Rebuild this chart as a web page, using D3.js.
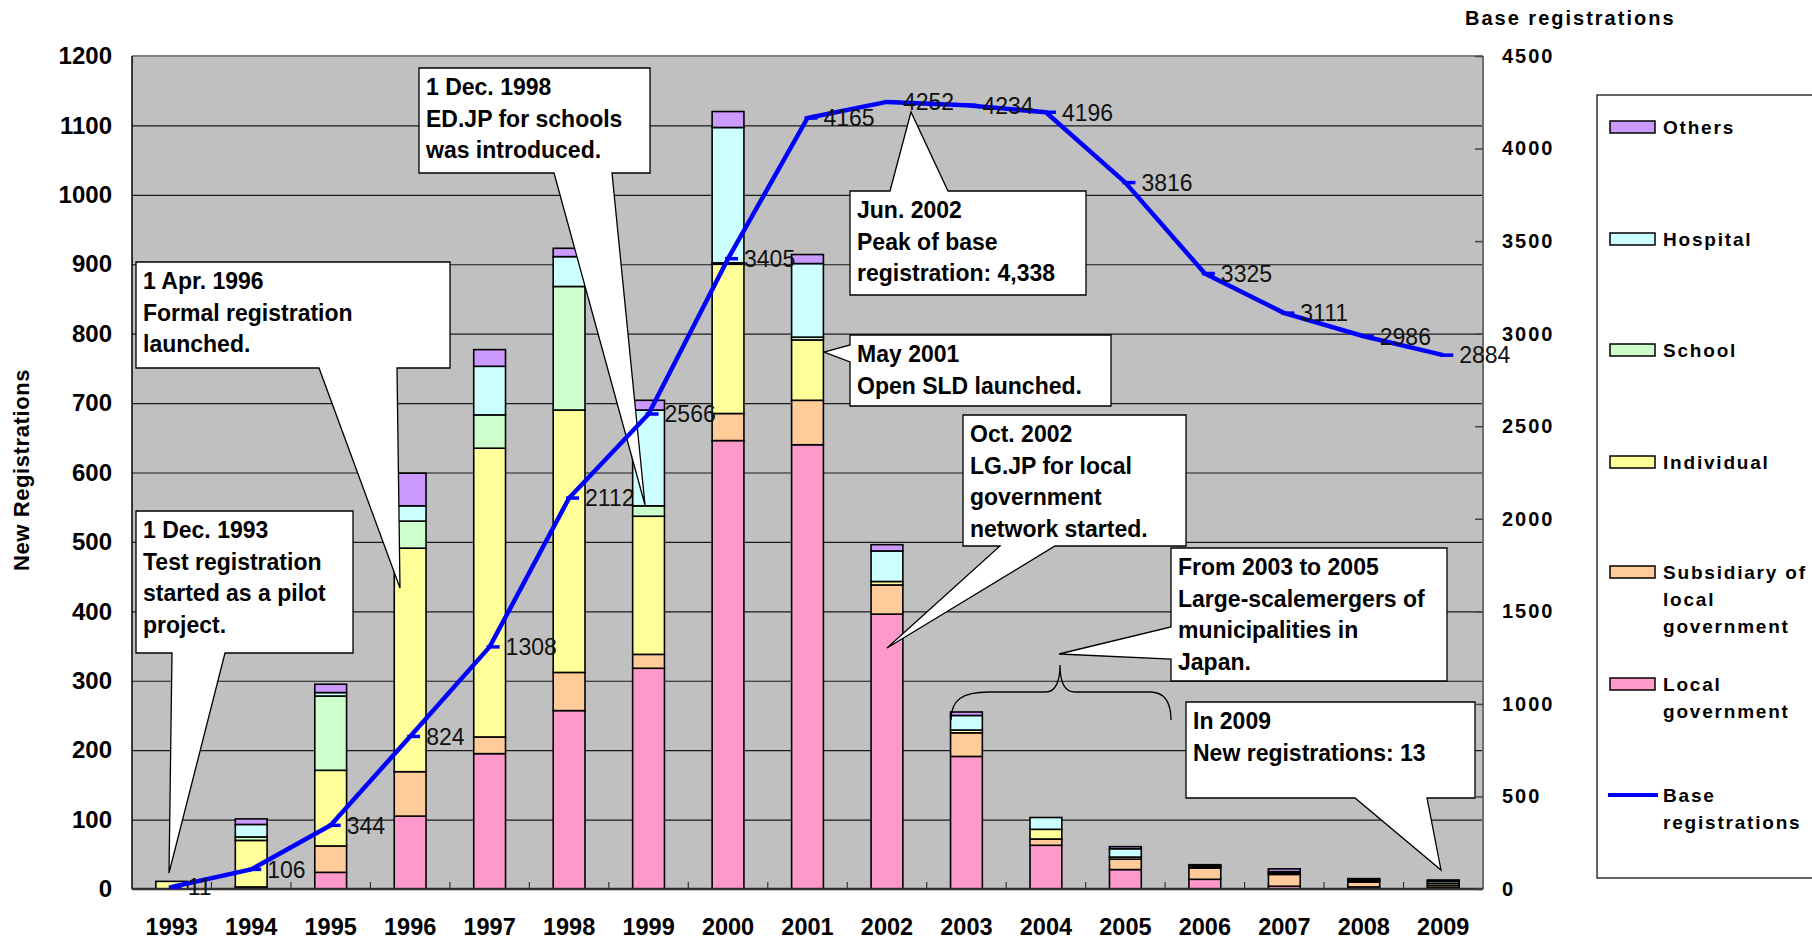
<!DOCTYPE html>
<html>
<head>
<meta charset="utf-8">
<script src="https://cdn.jsdelivr.net/npm/d3@7/dist/d3.min.js"></script>
<style>
  body { margin: 0; background: #fff; }
  svg { display: block; font-family: "Liberation Sans", Arial, sans-serif; }
</style>
</head>
<body>
<div id="chart"></div>
<script>
// data
var years = ["1993","1994","1995","1996","1997","1998","1999","2000","2001","2002","2003","2004","2005","2006","2007","2008","2009"];
var localGov   = [0, 2, 24, 105, 195, 257, 318, 646, 640, 396, 191, 63, 28, 14, 4, 3, 2];
var subsidiary = [0, 1, 38, 64, 24, 55, 20, 39, 64, 42, 34, 9, 15, 16, 17, 7, 3];
var individual = [11, 67, 109, 322, 416, 378, 199, 215, 87, 5, 4, 14, 3, 2, 2, 2, 3];
var school     = [0, 5, 107, 39, 48, 178, 15, 2, 4, 0, 0, 0, 0, 0, 0, 0, 0];
var hospital   = [0, 18, 5, 22, 70, 43, 138, 195, 106, 44, 21, 17, 12, 1, 2, 2, 3];
var others     = [0, 8, 12, 47, 24, 12, 14, 23, 13, 9, 5, 0, 3, 2, 4, 1, 2];
var baseRegs   = [11, 106, 344, 824, 1308, 2112, 2566, 3405, 4165, 4252, 4234, 4196, 3816, 3325, 3111, 2986, 2884];

var leftTicks = [0,100,200,300,400,500,600,700,800,900,1000,1100,1200];
var rightTicks = [0,500,1000,1500,2000,2500,3000,3500,4000,4500];

var seriesKeys = ["Local government","Subsidiary of local government","Individual","School","Hospital","Others"];
var seriesVals = [localGov, subsidiary, individual, school, hospital, others];
var seriesColors = ["#FF99CC","#FFCC99","#FFFF99","#CCFFCC","#CCFFFF","#CC99FF"];

// callouts (layout only)
var callouts = [
  {box:[136,511,353,653], side:"bottom", base:[172,225], tip:[169,873],
   lines:["1 Dec. 1993","Test registration","started as a pilot","project."]},
  {box:[136,262,450,368], side:"bottom", base:[319,397], tip:[400,588],
   lines:["1 Apr. 1996","Formal registration","launched."]},
  {box:[419,68,650,173], side:"bottom", base:[554,612], tip:[645,505],
   lines:["1 Dec. 1998","ED.JP for schools","was introduced."]},
  {box:[850,191,1086,295], side:"top", base:[890,948], tip:[911,112],
   lines:["Jun. 2002","Peak of base","registration: 4,338"]},
  {box:[850,335,1111,406], side:"left", base:[345,362], tip:[824,352],
   lines:["May 2001","Open SLD launched."]},
  {box:[963,415,1186,546], side:"bottom", base:[1000,1055], tip:[887,648],
   lines:["Oct. 2002","LG.JP for local","government","network started."]},
  {box:[1171,548,1447,681], side:"left", base:[627,659], tip:[1059,654],
   lines:["From 2003 to 2005","Large-scalemergers of","municipalities in","Japan."]},
  {box:[1186,702,1475,798], side:"bottom", base:[1355,1427], tip:[1441,870],
   lines:["In 2009","New registrations: 13"]}
];

var W = 1812, H = 939;
var plot = {left: 132, right: 1483, top: 56, bottom: 889};

var svg = d3.select("#chart").append("svg")
  .attr("width", W).attr("height", H);

var x = d3.scaleBand()
  .domain(years)
  .range([plot.left, plot.right])
  .paddingInner(0.6)
  .paddingOuter(0.3);

var yL = d3.scaleLinear().domain([0, 1200]).range([plot.bottom, plot.top]);
var yR = d3.scaleLinear().domain([0, 4500]).range([plot.bottom, plot.top]);

// plot background
svg.append("rect")
  .attr("x", plot.left).attr("y", plot.top)
  .attr("width", plot.right - plot.left).attr("height", plot.bottom - plot.top)
  .attr("fill", "#C0C0C0");

// gridlines
svg.append("g")
  .attr("transform", "translate(" + plot.left + ",0)")
  .call(d3.axisLeft(yL).tickValues(leftTicks).tickSize(-(plot.right - plot.left)).tickFormat(""))
  .call(function(g) { g.select(".domain").remove(); })
  .selectAll("line").attr("stroke", "#1a1a1a").attr("stroke-width", 1.2);

// stacked bars
var table = years.map(function(yr, i) {
  var row = {year: yr};
  seriesKeys.forEach(function(k, j) { row[k] = seriesVals[j][i]; });
  return row;
});
var stacked = d3.stack().keys(seriesKeys)(table);

svg.append("g").selectAll("g")
  .data(stacked)
  .join("g")
    .attr("fill", function(d, i) { return seriesColors[i]; })
  .selectAll("rect")
  .data(function(d) { return d.filter(function(s) { return s[1] - s[0] > 0; }); })
  .join("rect")
    .attr("x", function(d) { return x(d.data.year); })
    .attr("y", function(d) { return yL(d[1]); })
    .attr("width", x.bandwidth())
    .attr("height", function(d) { return yL(d[0]) - yL(d[1]); })
    .attr("stroke", "#000")
    .attr("stroke-width", 1.6);

// bottom axis inner ticks between categories
var step = x.step();
svg.append("g").selectAll("line")
  .data(years.slice(1))
  .join("line")
    .attr("x1", function(d) { return x(d) - step * x.paddingInner() / 2; })
    .attr("x2", function(d) { return x(d) - step * x.paddingInner() / 2; })
    .attr("y1", plot.bottom).attr("y2", plot.bottom - 7)
    .attr("stroke", "#333").attr("stroke-width", 1.2);

// plot frame
svg.append("line").attr("x1", plot.left).attr("x2", plot.right)
  .attr("y1", plot.top).attr("y2", plot.top)
  .attr("stroke", "#808080").attr("stroke-width", 2);
svg.append("line").attr("x1", plot.right).attr("x2", plot.right)
  .attr("y1", plot.top).attr("y2", plot.bottom)
  .attr("stroke", "#6e6e6e").attr("stroke-width", 2);
svg.append("line").attr("x1", plot.left).attr("x2", plot.left)
  .attr("y1", plot.top).attr("y2", plot.bottom)
  .attr("stroke", "#000").attr("stroke-width", 1.5);
svg.append("line").attr("x1", plot.left).attr("x2", plot.right)
  .attr("y1", plot.bottom).attr("y2", plot.bottom)
  .attr("stroke", "#333").attr("stroke-width", 2.5);

// callouts
function calloutPath(c) {
  var x0 = c.box[0], y0 = c.box[1], x1 = c.box[2], y1 = c.box[3];
  var p = d3.path();
  if (c.side === "bottom") {
    p.moveTo(x0, y0); p.lineTo(x1, y0); p.lineTo(x1, y1);
    p.lineTo(c.base[1], y1); p.lineTo(c.tip[0], c.tip[1]); p.lineTo(c.base[0], y1);
    p.lineTo(x0, y1);
  } else if (c.side === "top") {
    p.moveTo(x0, y0); p.lineTo(c.base[0], y0); p.lineTo(c.tip[0], c.tip[1]);
    p.lineTo(c.base[1], y0); p.lineTo(x1, y0); p.lineTo(x1, y1); p.lineTo(x0, y1);
  } else {
    p.moveTo(x0, y0); p.lineTo(x1, y0); p.lineTo(x1, y1); p.lineTo(x0, y1);
    p.lineTo(x0, c.base[1]); p.lineTo(c.tip[0], c.tip[1]); p.lineTo(x0, c.base[0]);
  }
  p.closePath();
  return p.toString();
}

var cg = svg.append("g").selectAll("g")
  .data(callouts)
  .join("g");
cg.append("path")
  .attr("d", calloutPath)
  .attr("fill", "#fff")
  .attr("stroke", "#000")
  .attr("stroke-width", 1.3)
  .attr("stroke-linejoin", "miter");
cg.each(function(c) {
  d3.select(this).selectAll("text")
    .data(c.lines)
    .join("text")
      .attr("x", c.box[0] + 7)
      .attr("y", function(d, i) { return c.box[1] + 19 + i * 31.5; })
      .attr("dy", "0.36em")
      .style("font-size", "23px")
      .style("font-weight", "bold")
      .text(function(d) { return d; });
});

// brace for 2003-2005
svg.append("path")
  .attr("d", "M951,720 C951,700 962,692 989,692 L1046,692 C1056,692 1060,680 1060,665 " +
             "C1060,680 1064,692 1075,692 L1150,692 C1165,692 1171,702 1171,720")
  .attr("fill", "none").attr("stroke", "#000").attr("stroke-width", 1.3);

// base registrations line
var cx = function(i) { return x(years[i]) + x.bandwidth() / 2; };
var line = d3.line()
  .x(function(d, i) { return cx(i); })
  .y(function(d) { return yR(d); });

svg.append("path")
  .datum(baseRegs)
  .attr("d", line)
  .attr("fill", "none")
  .attr("stroke", "#0000FF")
  .attr("stroke-width", 4.5)
  .attr("stroke-linejoin", "round");

svg.append("g").selectAll("line")
  .data(baseRegs)
  .join("line")
    .attr("x1", function(d, i) { return cx(i) - 3; })
    .attr("x2", function(d, i) { return cx(i) + 10; })
    .attr("y1", function(d) { return yR(d); })
    .attr("y2", function(d) { return yR(d); })
    .attr("stroke", "#0000FF").attr("stroke-width", 3.5);

svg.append("g").selectAll("text")
  .data(baseRegs)
  .join("text")
    .attr("x", function(d, i) { return cx(i) + 16; })
    .attr("y", function(d) { return yR(d); })
    .attr("dy", "0.36em")
    .style("font-size", "23px")
    .style("fill", "#111")
    .text(function(d) { return d; });

// axes
var leftAxis = svg.append("g")
  .attr("transform", "translate(" + plot.left + ",0)")
  .call(d3.axisLeft(yL).tickValues(leftTicks).tickSize(0).tickPadding(20).tickFormat(d3.format("d")));
leftAxis.select(".domain").remove();
leftAxis.selectAll("text")
  .style("font-size", "24px").style("font-weight", "bold")
  .style("font-family", "'Liberation Sans', Arial, sans-serif").attr("fill", "#000");

var bottomAxis = svg.append("g")
  .attr("transform", "translate(0," + plot.bottom + ")")
  .call(d3.axisBottom(x).tickSize(0).tickPadding(29));
bottomAxis.select(".domain").remove();
bottomAxis.selectAll("text")
  .style("font-size", "23.5px").style("font-weight", "bold")
  .style("font-family", "'Liberation Sans', Arial, sans-serif").attr("fill", "#000");

svg.append("g")
  .attr("transform", "translate(" + plot.right + ",0)")
  .call(d3.axisLeft(yR).tickValues(rightTicks).tickSize(8).tickFormat(""))
  .call(function(g) { g.select(".domain").remove(); })
  .selectAll("line").attr("stroke", "#444").attr("stroke-width", 1.5);

var rightAxis = svg.append("g")
  .attr("transform", "translate(" + plot.right + ",0)")
  .call(d3.axisRight(yR).tickValues(rightTicks).tickSize(0).tickPadding(19).tickFormat(d3.format("d")));
rightAxis.select(".domain").remove();
rightAxis.selectAll("text")
  .style("font-size", "20px").style("font-weight", "bold").style("letter-spacing", "2px")
  .style("font-family", "'Liberation Sans', Arial, sans-serif").attr("fill", "#000");

// axis titles
svg.append("text")
  .attr("transform", "translate(29,470) rotate(-90)")
  .attr("text-anchor", "middle")
  .style("font-size", "22px").style("font-weight", "bold").style("letter-spacing", "0.6px")
  .text("New Registrations");

svg.append("text")
  .attr("x", 1465).attr("y", 25)
  .style("font-size", "20px").style("font-weight", "bold").style("letter-spacing", "2px")
  .text("Base registrations");

// legend
var legendItems = [
  {name: ["Others"], color: "#CC99FF", y: 127},
  {name: ["Hospital"], color: "#CCFFFF", y: 239},
  {name: ["School"], color: "#CCFFCC", y: 350},
  {name: ["Individual"], color: "#FFFF99", y: 462},
  {name: ["Subsidiary of", "local", "government"], color: "#FFCC99", y: 572},
  {name: ["Local", "government"], color: "#FF99CC", y: 684},
  {name: ["Base", "registrations"], color: "#0000FF", y: 795, line: true}
];

var legend = svg.append("g");
legend.append("rect")
  .attr("x", 1597).attr("y", 95).attr("width", 260).attr("height", 783)
  .attr("fill", "#fff").attr("stroke", "#000").attr("stroke-width", 1.2);

var li = legend.selectAll("g.item")
  .data(legendItems)
  .join("g").attr("class", "item");
li.each(function(d) {
  var g = d3.select(this);
  if (d.line) {
    g.append("line").attr("x1", 1608).attr("x2", 1658)
      .attr("y1", d.y).attr("y2", d.y)
      .attr("stroke", d.color).attr("stroke-width", 4);
  } else {
    g.append("rect").attr("x", 1610).attr("y", d.y - 6)
      .attr("width", 45).attr("height", 12)
      .attr("fill", d.color).attr("stroke", "#000").attr("stroke-width", 1.5);
  }
  g.selectAll("text").data(d.name).join("text")
    .attr("x", 1663)
    .attr("y", function(t, i) { return d.y + i * 27; })
    .attr("dy", "0.36em")
    .style("font-size", "19px").style("font-weight", "bold").style("letter-spacing", "1.8px")
    .text(function(t) { return t; });
});
</script>
</body>
</html>
